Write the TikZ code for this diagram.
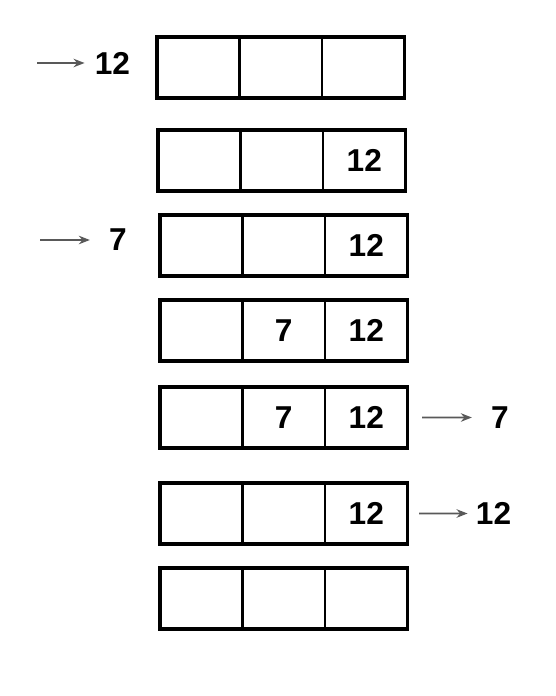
\documentclass[tikz,border=0pt]{standalone}
\usepackage{fontspec}
\setmainfont{Liberation Sans}
\usetikzlibrary{positioning,arrows.meta}
\tikzset{
	cell/.style={draw, line width=1.4pt, minimum width=1.65cm, minimum height=1.22cm, inner sep=0pt, outer sep=0pt, font=\fontsize{18}{20}\selectfont\bfseries},
	frame/.style={draw, line width=1.9pt},
	num/.style={inner sep=0pt, font=\fontsize{18}{20}\selectfont\bfseries},
	arr/.style={-{Stealth[length=2.2mm,width=1.7mm]}, draw=black!65, line width=1pt},
}
\begin{document}
\begin{tikzpicture}
				\useasboundingbox (0,0) rectangle (11.1,-13.92);
				\node[cell, anchor=north west] (r1a) at (3.14,-0.74) {};
				\node[cell, right=0pt of r1a] (r1b) {};
				\node[cell, right=0pt of r1b] (r1c) {};
				\draw[frame] (r1a.north west) rectangle (r1c.south east);
				\node[cell, anchor=north west] (r2a) at (3.16,-2.60) {};
				\node[cell, right=0pt of r2a] (r2b) {};
				\node[cell, right=0pt of r2b] (r2c) {12};
				\draw[frame] (r2a.north west) rectangle (r2c.south east);
				\node[cell, anchor=north west] (r3a) at (3.20,-4.30) {};
				\node[cell, right=0pt of r3a] (r3b) {};
				\node[cell, right=0pt of r3b] (r3c) {12};
				\draw[frame] (r3a.north west) rectangle (r3c.south east);
				\node[cell, anchor=north west] (r4a) at (3.20,-6.00) {};
				\node[cell, right=0pt of r4a] (r4b) {7};
				\node[cell, right=0pt of r4b] (r4c) {12};
				\draw[frame] (r4a.north west) rectangle (r4c.south east);
				\node[cell, anchor=north west] (r5a) at (3.20,-7.74) {};
				\node[cell, right=0pt of r5a] (r5b) {7};
				\node[cell, right=0pt of r5b] (r5c) {12};
				\draw[frame] (r5a.north west) rectangle (r5c.south east);
				\node[cell, anchor=north west] (r6a) at (3.20,-9.66) {};
				\node[cell, right=0pt of r6a] (r6b) {};
				\node[cell, right=0pt of r6b] (r6c) {12};
				\draw[frame] (r6a.north west) rectangle (r6c.south east);
				\node[cell, anchor=north west] (r7a) at (3.20,-11.36) {};
				\node[cell, right=0pt of r7a] (r7b) {};
				\node[cell, right=0pt of r7b] (r7c) {};
				\draw[frame] (r7a.north west) rectangle (r7c.south east);
				\node[num] (in1) at (2.25,-1.26) {12};
				\coordinate (a1) at (0.74,-1.26);
				\draw[arr, shorten >=0.2cm] (a1) -- (in1);
				\node[num] (in3) at (2.36,-4.80) {7};
				\coordinate (a3) at (0.80,-4.80);
				\draw[arr, shorten >=0.38cm] (a3) -- (in3);
				\node[num] (out5) at (10.0,-8.35) {7};
				\draw[arr, shorten <=0.29cm, shorten >=0.38cm] (r5c) -- (out5);
				\node[num] (out6) at (9.87,-10.27) {12};
				\draw[arr, shorten <=0.23cm, shorten >=0.16cm] (r6c) -- (out6);
			\end{tikzpicture}
\end{document}
